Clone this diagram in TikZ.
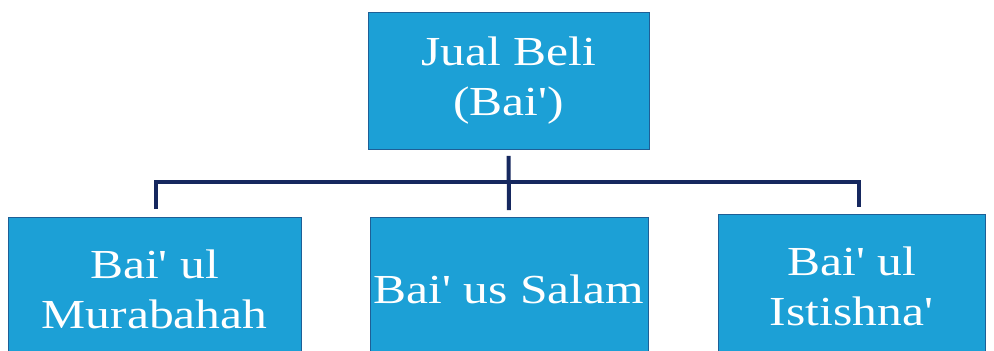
\documentclass[tikz,border=0pt]{standalone}
\usepackage{fontspec}
\setmainfont{Liberation Serif}[FakeStretch=1.2, Ligatures=TeXOff]
\definecolor{boxblue}{RGB}{28,160,214}
\definecolor{boxedge}{RGB}{30,95,150}
\definecolor{linenavy}{RGB}{22,40,95}
\tikzset{
  box/.style={draw=boxedge, line width=0.5pt, fill=boxblue, text=white,
    inner sep=0pt, outer sep=0pt, align=center,
    font=\fontsize{23.5}{28.5}\selectfont},
  link/.style={draw=linenavy, line width=0.08cm, line join=miter},
}
\begin{document}
\begin{tikzpicture}[x=0.02cm,y=-0.02cm]
  \useasboundingbox (0,0) rectangle (994,351);
  \clip (0,0) rectangle (994,351);
  \fill[white] (0,0) rectangle (994,351);
  % Top: the parent box
  \node[box, minimum width=5.62cm, minimum height=2.74cm] (bai) at (508.5,80.5)
    {Jual Beli\\(Bai')};
  % Bottom: the three kinds
  \node[box, minimum width=5.86cm, minimum height=2.9cm] (murabahah) at (154.5,289.5)
    {Bai' ul\\Murabahah};
  \node[box, minimum width=5.56cm, minimum height=2.9cm] (salam) at (509,289.5)
    {Bai' us Salam};
  \node[box, minimum width=5.34cm, minimum height=2.9cm] (istishna) at (851.5,286.5)
    {Bai' ul\\Istishna'};
  % Connectors
  \coordinate (lbus) at (156,182);
  \coordinate (rbus) at (859,182);
  \draw[link, shorten <=0.14cm, shorten >=0.14cm] (bai.south) -- (salam.north);
  \draw[link, shorten <=0.16cm, shorten >=0.15cm]
    (lbus |- murabahah.north) -- (lbus) -- (rbus) -- (rbus |- istishna.north);
\end{tikzpicture}
\end{document}
